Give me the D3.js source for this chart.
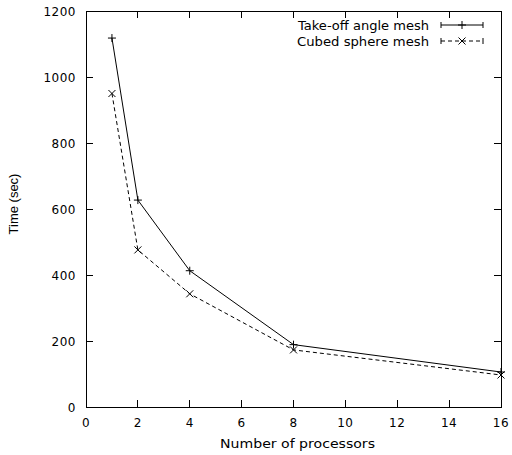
<!DOCTYPE html>
<html><head><meta charset="utf-8">
<script src="https://cdn.jsdelivr.net/npm/d3@7"></script>
<style>body{margin:0;background:#fff}svg{display:block}text{font-family:"DejaVu Sans",sans-serif;font-size:12px;fill:#000}</style>
</head><body>
<script>
const processors = [1, 2, 4, 8, 16];
const takeoffTimes = [1118, 627, 413, 189, 106];
const cubedTimes = [950, 476, 343, 173, 97];
const xTicks = [0, 2, 4, 6, 8, 10, 12, 14, 16];
const yTicks = [0, 200, 400, 600, 800, 1000, 1200];
const seriesNames = ["Take-off angle mesh", "Cubed sphere mesh"];

const W = 512, H = 455;
const L = 86, R = 501, T = 11, B = 407;
const svg = d3.select("body").append("svg").attr("width", W).attr("height", H);
const x = d3.scaleLinear().domain([0, 16]).range([L, R]);
const y = d3.scaleLinear().domain([0, 1200]).range([B, T]);
const tl = 7;
const g = svg.append("g").attr("stroke", "#000").attr("stroke-width", 1).attr("shape-rendering", "crispEdges");
g.append("rect").attr("x", L).attr("y", T).attr("width", R - L).attr("height", B - T).attr("fill", "none");
xTicks.forEach(v => {
  g.append("line").attr("x1", x(v)).attr("x2", x(v)).attr("y1", B).attr("y2", B - tl);
  g.append("line").attr("x1", x(v)).attr("x2", x(v)).attr("y1", T).attr("y2", T + tl);
});
yTicks.forEach(v => {
  g.append("line").attr("x1", L).attr("x2", L + tl).attr("y1", y(v)).attr("y2", y(v));
  g.append("line").attr("x1", R).attr("x2", R - tl).attr("y1", y(v)).attr("y2", y(v));
});
svg.append("g").selectAll("text").data(xTicks).join("text")
  .attr("x", d => x(d)).attr("y", 427).attr("text-anchor", "middle").attr("letter-spacing", "0.5").text(d => d);
svg.append("g").selectAll("text").data(yTicks).join("text")
  .attr("x", 76).attr("y", d => y(d) + 4.5).attr("text-anchor", "end").attr("letter-spacing", "0.5").text(d => d);
svg.append("text").attr("x", 220).attr("y", 448).attr("textLength", 155).attr("lengthAdjust", "spacingAndGlyphs").text("Number of processors");
svg.append("text").attr("transform", "translate(18,204) rotate(-90)").attr("text-anchor", "middle")
  .style("font-family", "'Liberation Sans', Arial, sans-serif").style("font-size", "13px").text("Time (sec)");

const line = d3.line().x(d => x(d[0])).y(d => y(d[1]));
const plus = (sel, cx, cy) => {
  sel.append("path").attr("d", `M${cx-4},${cy}H${cx+4}M${cx},${cy-4}V${cy+4}`).attr("stroke", "#000").attr("fill", "none");
};
const cross = (sel, cx, cy) => {
  sel.append("path").attr("d", `M${cx-3.5},${cy-3.5}L${cx+3.5},${cy+3.5}M${cx-3.5},${cy+3.5}L${cx+3.5},${cy-3.5}`).attr("stroke", "#000").attr("fill", "none");
};
const s1 = processors.map((p, i) => [p, takeoffTimes[i]]);
const s2 = processors.map((p, i) => [p, cubedTimes[i]]);
const pg = svg.append("g");
pg.append("path").attr("d", line(s1)).attr("fill", "none").attr("stroke", "#000").attr("stroke-width", 1);
pg.append("path").attr("d", line(s2)).attr("fill", "none").attr("stroke", "#000").attr("stroke-width", 1).attr("stroke-dasharray", "4,3");
s1.forEach(d => plus(pg, x(d[0]), y(d[1])));
s2.forEach(d => cross(pg, x(d[0]), y(d[1])));

// legend
const lg = svg.append("g");
const ly = [25, 41];
const lw = [131, 132];
seriesNames.forEach((n, i) => {
  lg.append("text").attr("x", 429 - lw[i]).attr("y", ly[i] + 4.5).attr("textLength", lw[i]).attr("lengthAdjust", "spacingAndGlyphs").text(n);
  lg.append("path").attr("d", `M441,${ly[i]-3}V${ly[i]+3}M483,${ly[i]-3}V${ly[i]+3}`).attr("stroke", "#000").attr("fill", "none");
  lg.append("path").attr("d", `M441,${ly[i]}H483`).attr("stroke", "#000").attr("fill", "none")
    .attr("stroke-dasharray", i === 1 ? "4,3" : null);
  if (i === 0) plus(lg, 462, ly[i]); else cross(lg, 462, ly[i]);
});
</script>
</body></html>
